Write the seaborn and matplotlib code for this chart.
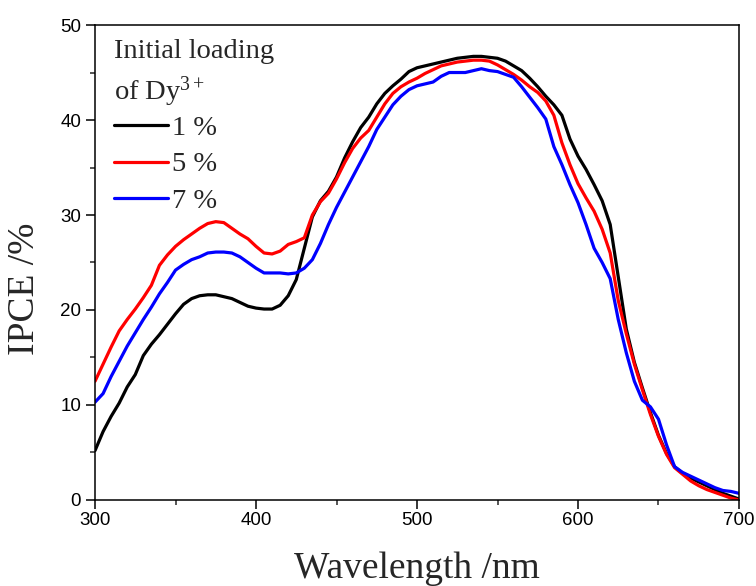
import numpy as np
import pandas as pd
import matplotlib
matplotlib.use("Agg")
import matplotlib.pyplot as plt
import seaborn as sns
from matplotlib.ticker import MultipleLocator

wavelength = list(range(300, 701, 5))

ipce_1 = [5.2, 7.2, 8.8, 10.2, 11.9, 13.2, 15.2, 16.4, 17.4, 18.5,
          19.6, 20.6, 21.2, 21.5, 21.6, 21.6, 21.4, 21.2, 20.8, 20.4,
          20.2, 20.1, 20.1, 20.5, 21.5, 23.2, 26.5, 29.8, 31.5, 32.5,
          34.0, 36.0, 37.7, 39.2, 40.3, 41.7, 42.8, 43.6, 44.3, 45.1,
          45.5, 45.7, 45.9, 46.1, 46.3, 46.5, 46.6, 46.7, 46.7, 46.6,
          46.5, 46.2, 45.7, 45.2, 44.4, 43.5, 42.5, 41.6, 40.5, 38.0,
          36.2, 34.8, 33.2, 31.5, 29.0, 23.5, 18.0, 14.5, 11.8, 9.2,
          6.8, 4.9, 3.5, 2.8, 2.3, 1.9, 1.5, 1.1, 0.7, 0.4, 0.1]

ipce_5 = [12.5, 14.3, 16.1, 17.8, 19.0, 20.1, 21.3, 22.6, 24.7, 25.8,
          26.7, 27.4, 28.0, 28.6, 29.1, 29.3, 29.2, 28.6, 28.0, 27.5,
          26.7, 26.0, 25.9, 26.2, 26.9, 27.2, 27.6, 30.0, 31.4, 32.3,
          33.8, 35.5, 37.0, 38.1, 38.9, 40.3, 41.7, 42.8, 43.5, 44.0,
          44.4, 44.9, 45.3, 45.7, 45.9, 46.1, 46.2, 46.3, 46.3, 46.2,
          45.8, 45.3, 44.8, 44.2, 43.5, 42.9, 42.0, 40.5, 37.6, 35.3,
          33.3, 31.8, 30.4, 28.5, 26.0, 21.0, 17.5, 14.3, 11.6, 9.0,
          6.7, 4.8, 3.4, 2.7, 2.0, 1.5, 1.1, 0.8, 0.5, 0.2, 0.0]

ipce_7 = [10.3, 11.2, 13.0, 14.6, 16.2, 17.6, 19.0, 20.3, 21.7, 22.9,
          24.2, 24.8, 25.3, 25.6, 26.0, 26.1, 26.1, 26.0, 25.6, 25.0,
          24.4, 23.9, 23.9, 23.9, 23.8, 23.9, 24.4, 25.3, 27.0, 29.0,
          30.8, 32.4, 34.0, 35.6, 37.2, 39.0, 40.3, 41.6, 42.5, 43.2,
          43.6, 43.8, 44.0, 44.6, 45.0, 45.0, 45.0, 45.2, 45.4, 45.2,
          45.1, 44.8, 44.5, 43.5, 42.4, 41.3, 40.1, 37.2, 35.3, 33.2,
          31.3, 29.0, 26.5, 25.0, 23.3, 19.0, 15.5, 12.5, 10.5, 9.8,
          8.5, 5.8, 3.5, 2.9, 2.5, 2.1, 1.7, 1.3, 1.0, 0.9, 0.7]

labels = ["1 %", "5 %", "7 %"]
colors = ["#000000", "#ff0000", "#0000ff"]

df = pd.concat([
    pd.DataFrame({"Wavelength": wavelength, "IPCE": vals, "Loading": lab})
    for vals, lab in zip([ipce_1, ipce_5, ipce_7], labels)
])

sns.set_style("ticks")
plt.rcParams["font.family"] = ["Liberation Sans", "DejaVu Sans"]
plt.rcParams["mathtext.fontset"] = "custom"
plt.rcParams["mathtext.rm"] = "Liberation Serif"
plt.rcParams["mathtext.it"] = "Liberation Serif:italic"
plt.rcParams["mathtext.bf"] = "Liberation Serif:bold"

fig = plt.figure(figsize=(7.56, 5.86), dpi=100)
ax = fig.add_axes([0.1257, 0.1468, 0.8518, 0.8105])

sns.lineplot(data=df, x="Wavelength", y="IPCE", hue="Loading",
             palette=dict(zip(labels, colors)), linewidth=2.3,
             ax=ax, legend=False, sort=False)

ax.set_xlim(300, 700)
ax.set_ylim(0, 50)
ax.xaxis.set_major_locator(MultipleLocator(100))
ax.xaxis.set_minor_locator(MultipleLocator(50))
ax.yaxis.set_major_locator(MultipleLocator(10))
ax.yaxis.set_minor_locator(MultipleLocator(5))
ax.tick_params(which="major", direction="out", length=6.5, width=1.1,
               labelsize=13.5, colors="black", top=False, right=False)
ax.tick_params(axis="x", which="major", pad=2.5)
ax.tick_params(axis="y", which="major", pad=3.5)
ax.tick_params(which="minor", direction="out", length=3.5, width=1.1,
               top=False, right=False)
for s in ax.spines.values():
    s.set_linewidth(1.1)
    s.set_color("black")
    s.set_visible(True)

ax.set_xlabel("Wavelength /nm", family="Liberation Serif", fontsize=27, labelpad=16)
ax.set_ylabel("IPCE /%", family="Liberation Serif", fontsize=27)
ax.yaxis.set_label_coords(-0.083, 0.445)

handles = [plt.Line2D([], [], color=c, lw=2.3) for c in colors]
leg = ax.legend(handles, labels, title="Initial loading\nof Dy$^{\\mathrm{3+}}$",
                loc="upper left", frameon=False, handlelength=1.9,
                handletextpad=0.15, labelspacing=0.37,
                prop={"family": "Liberation Serif", "size": 20.5},
                title_fontproperties={"family": "Liberation Serif", "size": 20.5},
                borderaxespad=0.25, bbox_to_anchor=(0.0, 1.01))
leg._legend_box.align = "left"
leg._legend_box.sep = 4.5
leg.get_title().set_linespacing(1.42)

fig.savefig("out.png", dpi=100)
